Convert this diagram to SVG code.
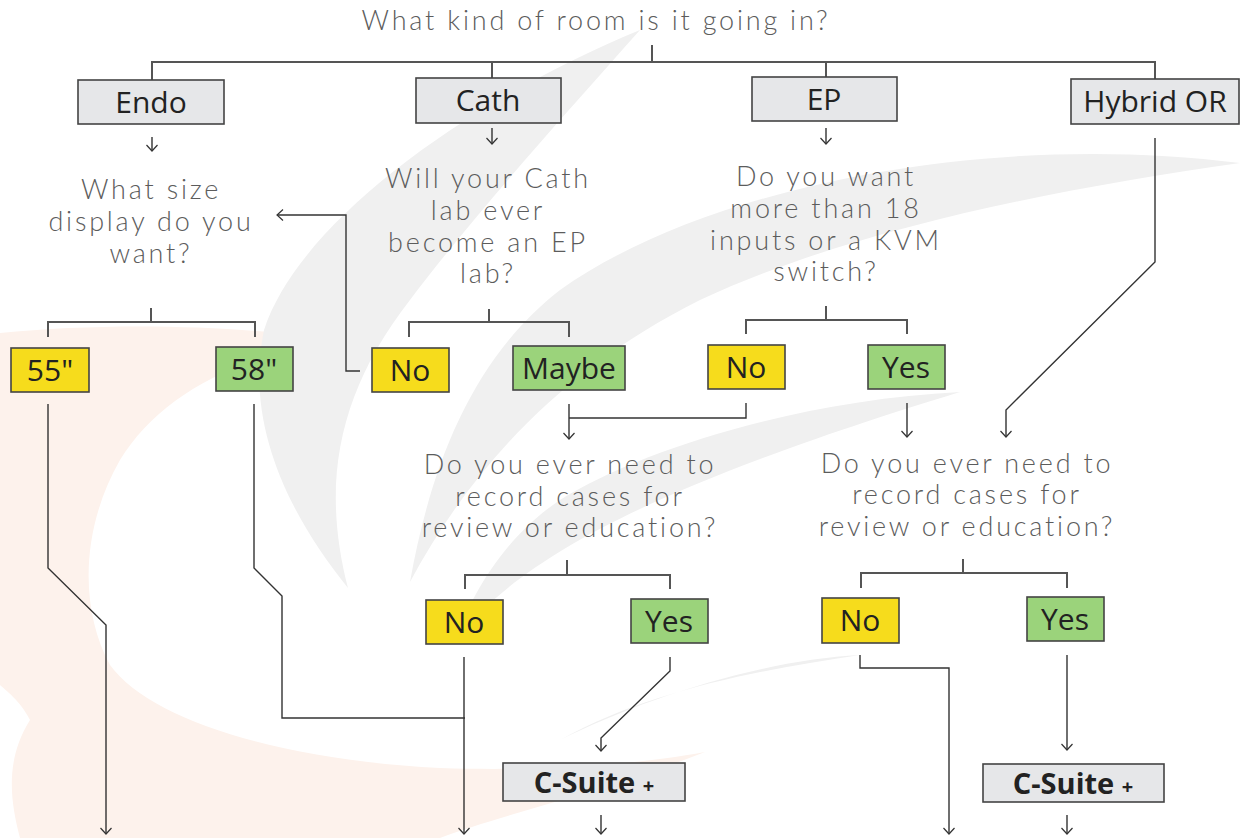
<svg xmlns="http://www.w3.org/2000/svg" width="1243" height="838" viewBox="0 0 1243 838">
<defs>
<marker id="ah" markerWidth="14" markerHeight="14" refX="7" refY="7" orient="auto" markerUnits="userSpaceOnUse">
<path d="M1,1.5 L7,7 L1,12.5" fill="none" stroke="#333" stroke-width="1.2"/>
</marker>
<style>
.q{font-family:Lato,"Open Sans","Liberation Sans",sans-serif;font-size:27px;font-weight:300;letter-spacing:2.8px;fill:#5c5c5c;text-anchor:middle}
.b{font-family:"Open Sans","Liberation Sans",sans-serif;font-size:30px;fill:#222;text-anchor:middle}
.grey{fill:#e6e7e9;stroke:#444;stroke-width:1.6}
.yel{fill:#f6dc1c;stroke:#444;stroke-width:1.6}
.grn{fill:#9bd37b;stroke:#444;stroke-width:1.6}
.cs{font-family:"Open Sans","Liberation Sans",sans-serif;font-size:29px;font-weight:bold;fill:#222;text-anchor:middle}
.ln{fill:none;stroke:#333;stroke-width:1.4}
.br{fill:none;stroke:#555;stroke-width:2}
.pe{fill:#fdf2ec}
.gs{fill:#f0f0f0}
</style>
</defs>
<rect width="1243" height="838" fill="#fff"/>
<g id="background">
<path class="pe" d="M0,333 C110,322 250,325 345,342 C240,352 160,395 120,460 C80,530 80,610 110,665 L0,665 Z"/>
<path class="pe" d="M0,665 L110,665 C150,720 280,760 440,768 C560,772 650,762 705,752 C610,790 500,815 440,838 L20,838 C10,800 5,760 30,720 C20,700 5,690 0,685 Z"/>
<path class="gs" d="M640,30 C470,100 300,220 264,330 C245,420 285,510 348,588 C320,480 340,390 410,300 C470,220 560,120 640,30 Z"/>
<path class="gs" d="M1240,163 C980,130 700,190 560,290 C470,360 430,470 410,582 C470,470 560,370 700,300 C850,230 1050,190 1240,163 Z"/>
<path class="gs" d="M960,392 C800,400 640,450 560,500 C500,540 470,600 455,640 C520,560 640,490 960,392 Z"/>
<path class="gs" d="M860,655 C760,660 640,700 560,740 C650,690 760,670 860,655 Z"/>
</g>
<g id="title"><text class="q" x="596" y="30">What kind of room is it going in?</text></g>
<g id="connectors">
<path class="br" d="M652,45 V62 M152,82 V62 H1155 V83 M492,62 V82 M826,62 V82"/>
<path class="ln" d="M152,137 V151" marker-end="url(#ah)"/>
<path class="ln" d="M492,128 V144" marker-end="url(#ah)"/>
<path class="ln" d="M826,128 V144" marker-end="url(#ah)"/>
<path class="br" d="M151,308 V322 M48,337 V322 H255 V337"/>
<path class="br" d="M489,309 V322 M409,337 V322 H569 V337"/>
<path class="br" d="M826,306 V320 M746,334 V320 H907 V334"/>
<path class="ln" d="M360,371 H346 V215 H277" marker-end="url(#ah)"/>
<path class="ln" d="M569,404 V439" marker-end="url(#ah)"/>
<path class="ln" d="M569,418 H746 V403"/>
<path class="ln" d="M907,403 V437" marker-end="url(#ah)"/>
<path class="ln" d="M1155,138 V262 L1006,410 V437" marker-end="url(#ah)"/>
<path class="br" d="M567,560 V574 M465,589 V575 H670 V589"/>
<path class="br" d="M963,559 V573 M861,588 V573 H1067 V588"/>
<path class="ln" d="M48,404 V568 L106,625 V834" marker-end="url(#ah)"/>
<path class="ln" d="M254,404 V568 L282,596 V718 H465"/>
<path class="ln" d="M464,657 V834" marker-end="url(#ah)"/>
<path class="ln" d="M670,657 V671 L601,738 V751" marker-end="url(#ah)"/>
<path class="ln" d="M601,815 V834" marker-end="url(#ah)"/>
<path class="ln" d="M860,655 V668 H949 V834" marker-end="url(#ah)"/>
<path class="ln" d="M1067,655 V750" marker-end="url(#ah)"/>
<path class="ln" d="M1067,815 V834" marker-end="url(#ah)"/>
</g>
<g id="endo"><rect class="grey" x="78" y="80" width="146" height="44"/><text class="b" x="151" y="113">Endo</text></g>
<g id="cath"><rect class="grey" x="416" y="78" width="145" height="45"/><text class="b" x="488" y="111">Cath</text></g>
<g id="ep"><rect class="grey" x="752" y="77" width="145" height="44"/><text class="b" x="824" y="110">EP</text></g>
<g id="hybrid"><rect class="grey" x="1071" y="79" width="168" height="45"/><text class="b" x="1155" y="112">Hybrid OR</text></g>
<g id="q-size"><text class="q"><tspan x="151" y="199">What size</tspan><tspan x="151" y="231">display do you</tspan><tspan x="151" y="263">want?</tspan></text></g>
<g id="q-cath"><text class="q"><tspan x="488" y="188">Will your Cath</tspan><tspan x="488" y="220">lab ever</tspan><tspan x="488" y="252">become an EP</tspan><tspan x="488" y="283">lab?</tspan></text></g>
<g id="q-ep"><text class="q"><tspan x="826" y="186">Do you want</tspan><tspan x="826" y="218">more than 18</tspan><tspan x="826" y="250">inputs or a KVM</tspan><tspan x="826" y="281">switch?</tspan></text></g>
<g id="a55"><rect class="yel" x="11" y="348" width="78" height="44"/><text class="b" x="50" y="381">55"</text></g>
<g id="a58"><rect class="grn" x="216" y="347" width="77" height="44"/><text class="b" x="254" y="380">58"</text></g>
<g id="cath-no"><rect class="yel" x="372" y="348" width="77" height="44"/><text class="b" x="410" y="381">No</text></g>
<g id="cath-maybe"><rect class="grn" x="513" y="346" width="112" height="44"/><text class="b" x="569" y="379">Maybe</text></g>
<g id="ep-no"><rect class="yel" x="708" y="345" width="77" height="44"/><text class="b" x="746" y="378">No</text></g>
<g id="ep-yes"><rect class="grn" x="868" y="345" width="77" height="44"/><text class="b" x="906" y="378">Yes</text></g>
<g id="q-rec1"><text class="q"><tspan x="570" y="474">Do you ever need to</tspan><tspan x="570" y="506">record cases for</tspan><tspan x="570" y="537">review or education?</tspan></text></g>
<g id="q-rec2"><text class="q"><tspan x="967" y="473">Do you ever need to</tspan><tspan x="967" y="504">record cases for</tspan><tspan x="967" y="536">review or education?</tspan></text></g>
<g id="rec1-no"><rect class="yel" x="426" y="600" width="77" height="44"/><text class="b" x="464" y="633">No</text></g>
<g id="rec1-yes"><rect class="grn" x="631" y="599" width="77" height="44"/><text class="b" x="669" y="632">Yes</text></g>
<g id="rec2-no"><rect class="yel" x="822" y="598" width="77" height="45"/><text class="b" x="860" y="631">No</text></g>
<g id="rec2-yes"><rect class="grn" x="1027" y="597" width="77" height="44"/><text class="b" x="1065" y="630">Yes</text></g>
<g id="csuite1"><rect class="grey" x="503" y="763" width="182" height="38"/><text class="cs" x="594" y="793">C-Suite <tspan font-size="20">+</tspan></text></g>
<g id="csuite2"><rect class="grey" x="983" y="764" width="181" height="38"/><text class="cs" x="1073" y="794">C-Suite <tspan font-size="20">+</tspan></text></g>
</svg>
